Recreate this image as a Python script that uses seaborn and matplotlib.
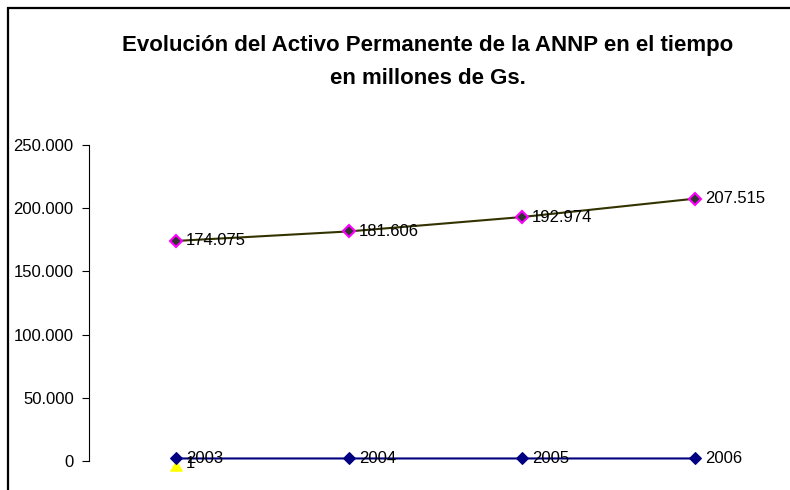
import pandas as pd
import seaborn as sns
import matplotlib.pyplot as plt
from matplotlib.ticker import FuncFormatter
from matplotlib.patches import Rectangle

# data
years = [2003, 2004, 2005, 2006]
activo = [174075, 181606, 192974, 207515]
extra = [1]  # stray series with a single point at the first category

sns.set_theme(style="white")
plt.rcParams['font.family'] = ['Liberation Sans', 'DejaVu Sans']
plt.rcParams['text.color'] = 'black'

cats = list(range(len(years)))
df_year = pd.DataFrame({"x": cats, "v": years})
df_act = pd.DataFrame({"x": cats, "v": activo})
df_extra = pd.DataFrame({"x": cats[:len(extra)], "v": extra})

fig = plt.figure(figsize=(7.9, 4.9), dpi=100)
ax = fig.add_axes([89 / 790, 1 - 461 / 490, 692 / 790, 316 / 490])

# triangle hanging below its point, as Excel draws it
tri = [(-0.6, -1.0), (0.6, -1.0), (0.0, 0.05), (-0.6, -1.0)]
sns.lineplot(data=df_extra, x="x", y="v", ax=ax, color="#FFFF00", marker=tri,
             markersize=14, markeredgecolor="#FFFF00", linewidth=1.2, zorder=2,
             clip_on=False)
sns.lineplot(data=df_year, x="x", y="v", ax=ax, color="#000080", marker="D",
             markersize=6, markeredgecolor="#000080", linewidth=1.5, zorder=3,
             clip_on=False)
sns.lineplot(data=df_act, x="x", y="v", ax=ax, color="#333300", marker="D",
             markersize=6, markerfacecolor="#333333", markeredgecolor="#FF00FF",
             markeredgewidth=1.5, linewidth=1.5, zorder=3)

for xs, vals in [(cats, activo), (cats, years), (cats[:len(extra)], extra)]:
    for xv, yv in zip(xs, vals):
        lab = f"{yv:,}".replace(",", ".") if yv > 10000 else str(yv)
        dy = -2 if yv == 1 else 0
        ax.annotate(lab, (xv, yv), xytext=(7.5, dy), textcoords="offset points",
                    ha="left", va="center", fontsize=12, color="black", zorder=4)

ax.set_xlim(-0.5, 3.5)
ax.set_ylim(0, 250000)
ax.set_yticks([0, 50000, 100000, 150000, 200000, 250000])
ax.yaxis.set_major_formatter(FuncFormatter(lambda v, p: f"{int(v):,}".replace(",", ".")))
ax.set_xticks([])
ax.set_xlabel("")
ax.set_ylabel("")
ax.tick_params(axis="y", left=True, length=5, width=0.8, color="black",
               labelsize=12, pad=6, labelcolor="black")
for s in ["top", "right", "bottom"]:
    ax.spines[s].set_visible(False)
ax.spines["left"].set_color("black")
ax.spines["left"].set_linewidth(0.8)
ax.set_facecolor("none")

fig.text(428 / 790, 1 - 45 / 490, "Evolución del Activo Permanente de la ANNP en el tiempo",
         ha="center", va="center", fontsize=16, fontweight="bold", color="black",
         family=['Liberation Sans Narrow', 'Liberation Sans'])
fig.text(428 / 790, 1 - 79 / 490, "en millones de Gs.",
         ha="center", va="center", fontsize=16, fontweight="bold", color="black",
         family=['Liberation Sans Narrow', 'Liberation Sans'])

fig.patches.append(Rectangle((8 / 790, -0.2), 1.2, 1.2 - 8 / 490,
                             transform=fig.transFigure, fill=False,
                             edgecolor="black", linewidth=1.6))

fig.savefig("out.png", dpi=100)
